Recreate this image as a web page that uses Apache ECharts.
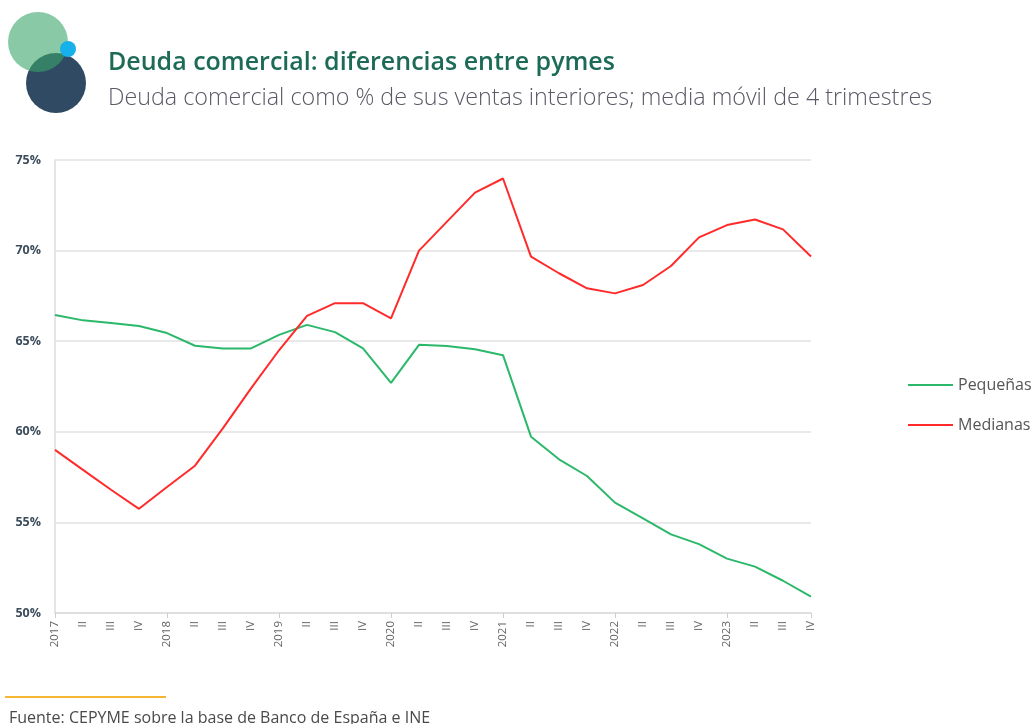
<!DOCTYPE html>
<html>
<head>
<meta charset="utf-8">
<script src="https://cdn.jsdelivr.net/npm/echarts@6/dist/echarts.min.js"></script>
<style>
html,body{margin:0;padding:0;background:#fff;}
#chart{width:1034px;height:724px;}
</style>
</head>
<body>
<div id="chart"></div>
<script>
const categories = ['2017','II','III','IV','2018','II','III','IV','2019','II','III','IV','2020','II','III','IV','2021','II','III','IV','2022','II','III','IV','2023','II','III','IV'];
const pequenas = [66.45,66.15,66.0,65.84,65.45,64.75,64.6,64.6,65.35,65.9,65.5,64.6,62.7,64.8,64.74,64.55,64.23,59.73,58.48,57.56,56.09,55.22,54.34,53.8,53.0,52.56,51.78,50.9];
const medianas = [59.0,57.9,56.8,55.75,56.95,58.13,60.2,62.4,64.5,66.4,67.1,67.1,66.26,70.0,71.6,73.2,73.98,69.67,68.75,67.92,67.64,68.1,69.15,70.73,71.41,71.72,71.17,69.67];
const yTicks = [50,55,60,65,70,75];

const FONT = 'Open Sans';
const chart = echarts.init(document.getElementById('chart'));
chart.setOption({
  backgroundColor: '#ffffff',
  animation: false,
  textStyle: { fontFamily: FONT },
  title: [
    { text: 'Deuda comercial: diferencias entre pymes', left: 103, top: 45,
      textStyle: { fontFamily: FONT, fontSize: 25, fontWeight: 600, color: '#1d6b57' } },
    { text: 'Deuda comercial como % de sus ventas interiores; media móvil de 4 trimestres', left: 103, top: 82,
      textStyle: { fontFamily: FONT, fontSize: 23.3, fontWeight: 300, color: '#5c5866' } },
    { text: 'Fuente: CEPYME sobre la base de Banco de España e INE', left: 4, top: 705,
      textStyle: { fontFamily: FONT, fontSize: 16, fontWeight: 'normal', color: '#4a4a4a' } }
  ],
  graphic: [
    { type: 'circle', shape: { cx: 56, cy: 83, r: 30 }, style: { fill: '#2f4a62' }, z: 10 },
    { type: 'circle', shape: { cx: 38, cy: 42, r: 30 }, style: { fill: '#3aa56a', opacity: 0.6 }, z: 11 },
    { type: 'circle', shape: { cx: 68, cy: 49, r: 8 }, style: { fill: '#16b0ea' }, z: 12 },
    { type: 'rect', shape: { x: 5, y: 696, width: 161, height: 2 }, style: { fill: '#f5b731' } }
  ],
  legend: {
    orient: 'vertical', left: 903, top: 372, itemGap: 24,
    itemWidth: 45, itemHeight: 2, icon: 'rect',
    textStyle: { fontFamily: FONT, fontSize: 16, color: '#555' },
    data: ['Pequeñas', 'Medianas']
  },
  grid: { left: 55, right: 223, top: 160, bottom: 111, containLabel: false },
  xAxis: {
    type: 'category', data: categories, boundaryGap: false,
    axisLine: { lineStyle: { color: '#dcdcdc', width: 1.5 } },
    axisTick: { show: true, interval: 3, length: 5, lineStyle: { color: '#cfcfcf' } },
    axisLabel: { interval: 0, rotate: 90, fontSize: 11.5, color: '#666', margin: 8, fontFamily: FONT }
  },
  yAxis: {
    type: 'value', min: 50, max: 75, interval: 5,
    axisLine: { show: true, lineStyle: { color: '#dcdcdc', width: 1.5 } },
    axisTick: { show: false },
    splitLine: { lineStyle: { color: '#e2e2e2', width: 1.5 } },
    axisLabel: { formatter: v => yTicks.includes(v) ? v + '%' : '', fontSize: 12.5, fontWeight: 'bold', color: '#3d4d5c', margin: 14, fontFamily: FONT }
  },
  series: [
    { name: 'Pequeñas', type: 'line', data: pequenas, showSymbol: false, symbol: 'none',
      lineStyle: { color: '#2bb86a', width: 2 }, itemStyle: { color: '#2bb86a' } },
    { name: 'Medianas', type: 'line', data: medianas, showSymbol: false, symbol: 'none',
      lineStyle: { color: '#ff2b2b', width: 2 }, itemStyle: { color: '#ff2b2b' } }
  ]
});
</script>
</body>
</html>
